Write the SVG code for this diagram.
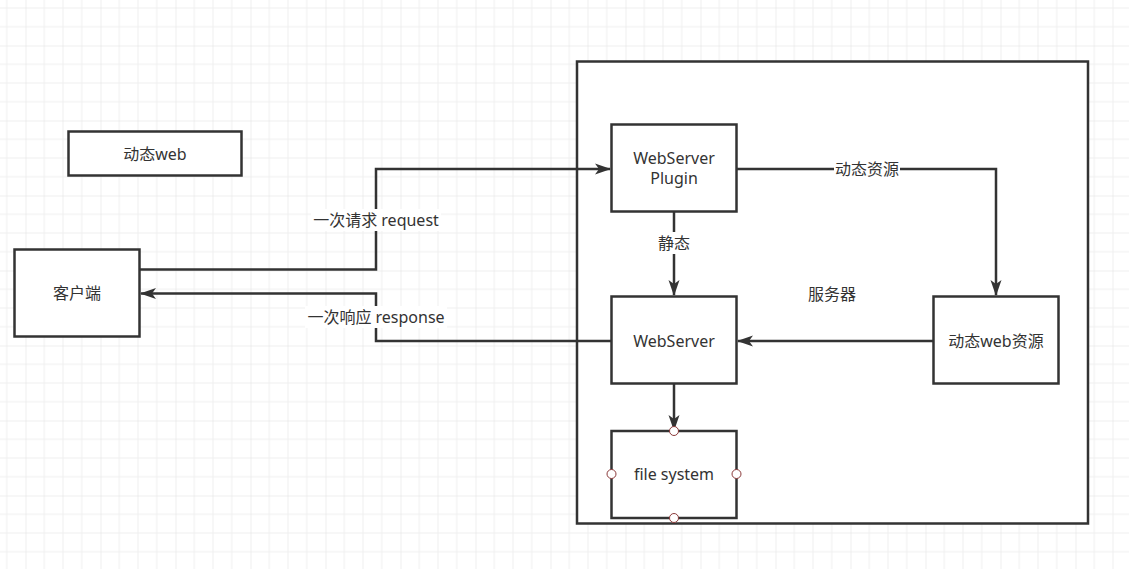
<svg xmlns="http://www.w3.org/2000/svg" width="1129" height="569" viewBox="0 0 1129 569">
<defs>
<pattern id="grid" patternUnits="userSpaceOnUse" x="25.5" y="45.5" width="75" height="75">
<path d="M18.75 0V75M37.5 0V75M56.25 0V75M0 18.75H75M0 37.5H75M0 56.25H75" stroke="#efefef" stroke-width="1" fill="none"/>
<path d="M0 0V75M0 0H75" stroke="#e0e0e0" stroke-width="1" fill="none"/>
</pattern>
<marker id="arr" markerUnits="userSpaceOnUse" viewBox="0 0 16 12" refX="15" refY="6" markerWidth="16" markerHeight="12" orient="auto">
<path d="M0 0.5 L16 6 L0 11.5 L4 6 Z" fill="#333333"/>
</marker>
</defs>
<style>
.box{fill:#ffffff;stroke:#333333;stroke-width:2.5}
.t{font-family:"Noto Sans","Noto Sans CJK SC",sans-serif;font-size:16px;fill:#333333;text-anchor:middle;dominant-baseline:central}
.c{fill:none;stroke:#333333;stroke-width:2.5}
.lbg{fill:#ffffff}
.pt{fill:#ffffff;stroke:#8b3a3a;stroke-width:1}
</style>
<rect x="0" y="0" width="1129" height="569" fill="#ffffff"/>
<rect x="0" y="0" width="1129" height="569" fill="url(#grid)"/>

<g id="server">
<rect class="box" x="577" y="61.5" width="511" height="462"/>
<text class="t" x="832" y="294">服务器</text>
</g>

<g id="dynweb">
<rect class="box" x="68.5" y="131.5" width="173" height="44"/>
<text class="t" x="155" y="153.5">动态web</text>
</g>

<g id="client">
<rect class="box" x="14.5" y="249.5" width="125" height="87"/>
<text class="t" x="77" y="293">客户端</text>
</g>

<g id="plugin">
<rect class="box" x="611.5" y="124.5" width="125" height="87"/>
<text class="t" x="674" y="158">WebServer</text>
<text class="t" x="674" y="178">Plugin</text>
</g>

<g id="webserver">
<rect class="box" x="611.5" y="296.5" width="125" height="87"/>
<text class="t" x="674" y="341">WebServer</text>
</g>

<g id="dynres">
<rect class="box" x="933.5" y="296.5" width="125" height="87"/>
<text class="t" x="996" y="341">动态web资源</text>
</g>

<g id="connectors">
<polyline class="c" points="139.5,269.5 376,269.5 376,169 610,169" marker-end="url(#arr)"/>
<polyline class="c" points="611,341 376,341 376,293.5 141,293.5" marker-end="url(#arr)"/>
<polyline class="c" points="737,169 996,169 996,295" marker-end="url(#arr)"/>
<line class="c" x1="674" y1="212" x2="674" y2="295" marker-end="url(#arr)"/>
<line class="c" x1="933" y1="341" x2="738" y2="341" marker-end="url(#arr)"/>
<line class="c" x1="674" y1="384" x2="674" y2="430" marker-end="url(#arr)"/>
<rect class="lbg" x="311" y="209" width="130" height="22"/>
<text class="t" x="376" y="220">一次请求 request</text>
<rect class="lbg" x="305" y="306" width="142" height="22"/>
<text class="t" x="376" y="317">一次响应 response</text>
<rect class="lbg" x="834" y="159" width="66" height="20"/>
<text class="t" x="867" y="169">动态资源</text>
<rect class="lbg" x="656" y="232" width="36" height="22"/>
<text class="t" x="674" y="243">静态</text>
</g>

<g id="filesystem">
<rect class="box" x="611.5" y="431" width="125" height="87"/>
<text class="t" x="674" y="474">file system</text>
<circle class="pt" cx="674" cy="431" r="4.5"/>
<circle class="pt" cx="611.5" cy="474" r="4.5"/>
<circle class="pt" cx="736.5" cy="474" r="4.5"/>
<circle class="pt" cx="674" cy="518" r="4.5"/>
</g>
</svg>
